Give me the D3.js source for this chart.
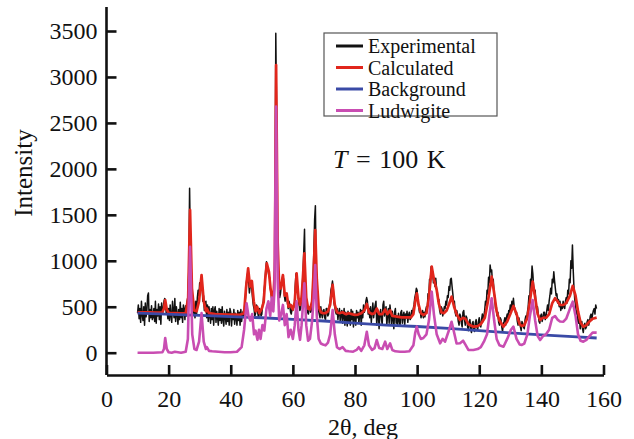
<!DOCTYPE html>
<html>
<head>
<meta charset="utf-8">
<script src="https://cdn.jsdelivr.net/npm/d3@7"></script>
<style>
  body { margin: 0; background: #fff; }
  svg text { font-family: "Liberation Serif", "Times New Roman", serif; fill: #111; }
</style>
</head>
<body>
<svg id="chart" width="634" height="439"></svg>
<script>
// ---- data ----
let xTicks = [0, 20, 40, 60, 80, 100, 120, 140, 160];
let yTicks = [0, 500, 1000, 1500, 2000, 2500, 3000, 3500];

let legendNames = ["Experimental", "Calculated", "Background", "Ludwigite"];

// experimental pattern, one value every 0.25 deg starting at 10 deg (one row = 5 deg)
let expStart = 10;
let expStep = 0.25;
let expIntensity = [
  430, 520, 370, 480, 330, 560, 410, 350, 500, 300, 540, 390, 460, 620, 650, 340, 470, 380, 510, 360,
  390, 480, 340, 560, 320, 470, 400, 530, 360, 500, 310, 540, 420, 470, 560, 590, 540, 420, 480, 370,
  480, 350, 520, 400, 330, 560, 450, 380, 590, 340, 500, 420, 310, 470, 360, 550, 380, 480, 330, 520,
  480, 360, 510, 400, 560, 620, 900, 1789, 1200, 650, 480, 420, 560, 440, 380, 560, 420, 600, 680, 620,
  760, 700, 820, 780, 560, 620, 460, 540, 560, 380, 520, 340, 500, 400, 320, 480, 360, 500, 300, 460,
  500, 330, 450, 380, 300, 480, 350, 470, 320, 500, 360, 290, 450, 390, 310, 470, 340, 440, 300, 480,
  440, 290, 420, 360, 470, 310, 430, 380, 300, 460, 350, 440, 300, 470, 340, 420, 450, 380, 520, 600,
  760, 820, 880, 780, 650, 720, 760, 700, 600, 520, 480, 400, 430, 520, 500, 420, 380, 480, 460, 400,
  420, 520, 560, 680, 760, 900, 990, 920, 900, 840, 820, 700, 640, 560, 580, 660, 700, 1200, 3475, 2600,
  1200, 800, 680, 600, 640, 720, 780, 840, 800, 620, 560, 620, 640, 540, 480, 560, 520, 440, 420, 500,
  460, 520, 500, 720, 860, 800, 700, 580, 520, 460, 480, 580, 700, 860, 1100, 1343, 700, 560, 480, 440,
  420, 480, 500, 440, 460, 580, 800, 1100, 1450, 1600, 900, 700, 520, 460, 420, 380, 500, 420, 380, 460,
  470, 380, 360, 480, 480, 400, 420, 520, 560, 680, 720, 780, 700, 540, 500, 440, 420, 480, 360, 440,
  480, 340, 420, 460, 320, 400, 480, 300, 440, 380, 290, 450, 340, 420, 300, 470, 360, 450, 280, 400,
  420, 300, 460, 380, 440, 320, 410, 470, 300, 460, 380, 520, 440, 480, 560, 600, 560, 420, 480, 380,
  500, 330, 440, 540, 380, 460, 520, 560, 300, 420, 460, 260, 400, 470, 380, 300, 520, 560, 400, 460,
  500, 300, 420, 480, 320, 520, 440, 300, 450, 380, 260, 440, 480, 320, 400, 300, 430, 360, 290, 440,
  460, 320, 400, 440, 300, 420, 380, 450, 330, 410, 440, 360, 380, 460, 420, 480, 520, 600, 640, 700,
  680, 560, 500, 440, 460, 380, 420, 460, 380, 440, 390, 460, 500, 460, 640, 600, 800, 760, 936, 860,
  880, 760, 800, 720, 810, 700, 660, 560, 580, 460, 420, 500, 480, 400, 440, 500, 480, 560, 520, 620,
  600, 720, 680, 800, 810, 720, 640, 540, 560, 440, 400, 460, 420, 340, 300, 420, 400, 320, 280, 440,
  460, 360, 300, 400, 380, 280, 240, 340, 360, 260, 220, 320, 340, 250, 230, 330, 360, 280, 250, 340,
  380, 300, 280, 360, 420, 340, 400, 460, 560, 520, 680, 640, 820, 760, 954, 880, 900, 760, 800, 660,
  600, 480, 500, 400, 440, 330, 300, 380, 360, 280, 230, 320, 340, 380, 300, 380, 420, 380, 460, 440,
  520, 460, 560, 500, 592, 500, 480, 420, 440, 340, 300, 380, 340, 280, 240, 340, 320, 280, 260, 360,
  400, 360, 440, 500, 620, 580, 800, 760, 943, 860, 720, 640, 680, 520, 460, 500, 420, 340, 320, 400,
  420, 340, 380, 440, 440, 360, 400, 460, 520, 460, 560, 620, 700, 640, 800, 760, 881, 780, 700, 620,
  640, 540, 580, 500, 560, 460, 520, 480, 560, 500, 480, 560, 600, 540, 680, 640, 800, 760, 1000, 920,
  1172, 900, 700, 580, 520, 420, 460, 340, 320, 380, 260, 320, 340, 260, 220, 300, 320, 260, 280, 340,
  360, 300, 340, 400, 420, 360, 420, 460, 480, 420, 519, 480
];

// calculated profile [2theta, intensity]
let calcPoints = [
  [10, 440], [12, 440], [14, 440], [16, 435], [18, 440], [18.5, 480], [18.9, 573], [19.4, 470],
  [20, 432], [22, 430], [24, 428], [25.5, 430], [26.3, 600], [26.9, 1553], [27.5, 700], [28.2, 460],
  [29, 450], [29.8, 560], [30.6, 845], [31.3, 560], [32, 450], [32.3, 480], [33, 430], [35, 420],
  [37, 418], [39, 415], [41, 415], [43, 412], [44.3, 430], [44.9, 700], [45.6, 918], [46.2, 720],
  [46.8, 780], [47.4, 560], [48, 450], [48.5, 500], [49.2, 430], [50, 480], [50.6, 550], [51.1, 800],
  [51.6, 973], [52.3, 880], [52.8, 700], [53.3, 600], [53.8, 650], [54.2, 900], [54.6, 3130], [55.1, 1200],
  [55.6, 700], [56.1, 700], [56.8, 845], [57.4, 620], [58, 646], [58.6, 500], [59.3, 520], [60, 470],
  [60.6, 550], [61.2, 864], [61.8, 600], [62.3, 520], [62.8, 600], [63.2, 800], [63.7, 1081], [64.3, 600],
  [64.9, 480], [65.5, 470], [66.2, 560], [66.7, 900], [67.2, 1335], [67.7, 800], [68.3, 500], [69, 440],
  [69.7, 429], [70.5, 430], [71.3, 450], [72, 520], [72.8, 737], [73.5, 520], [74.2, 440], [75, 430],
  [76, 440], [77, 420], [78, 430], [79, 420], [80, 410], [81, 415], [82, 430], [83, 460],
  [83.8, 530], [84.5, 440], [85.5, 420], [86.3, 430], [87, 480], [87.8, 420], [88.8, 420], [89.7, 470],
  [90.4, 420], [91.3, 460], [92, 400], [93, 395], [94, 390], [95, 385], [96, 385], [98, 385],
  [98.8, 420], [99.4, 560], [99.9, 646], [100.5, 520], [101.2, 430], [102, 410], [103, 430], [103.8, 600],
  [104.7, 936], [105.4, 800], [106.3, 682], [107, 530], [107.8, 440], [108.6, 430], [109.5, 460], [110.3, 530],
  [111.1, 609], [111.9, 500], [112.7, 420], [113.8, 356], [114.8, 380], [115.5, 370], [116.5, 310], [118.1, 283],
  [119.5, 290], [120.5, 310], [121.8, 380], [122.8, 560], [124, 827], [124.8, 650], [125.6, 450], [126.5, 350],
  [127.8, 283], [129, 340], [130, 420], [131, 508], [132, 420], [133, 310], [133.7, 290], [134.5, 300],
  [135.5, 380], [136.3, 560], [137.2, 773], [138, 600], [138.8, 420], [139.6, 356], [140.5, 380], [141.5, 380],
  [142.5, 420], [143.5, 540], [144.4, 592], [145.2, 560], [146, 520], [147.1, 519], [148, 540], [149.2, 620],
  [150.1, 726], [151, 620], [151.8, 450], [152.6, 330], [153.5, 283], [154.5, 300], [155.5, 340], [156.5, 370],
  [157.8, 381]
];

// background, nearly a straight line
let bgPoints = [
  [10, 430], [30, 405], [50, 380], [60, 362], [70, 345], [80, 322], [90, 300],
  [100, 285], [110, 265], [120, 240], [130, 215], [140, 195], [150, 175], [157.8, 160]
];

// ludwigite phase contribution
let ludPoints = [
  [10, 0], [15, 0], [18, 5], [18.5, 40], [18.9, 160], [19.4, 40], [20, 5], [21, 0],
  [22, 10], [23, 5], [24, 0], [25.5, 10], [26.2, 150], [26.9, 1153], [27.6, 200], [28.3, 40],
  [29, 30], [29.8, 120], [30.6, 432], [31.3, 120], [32, 40], [32.3, 60], [33, 20], [34, 15],
  [36, 10], [38, 5], [40, 5], [42, 10], [43.5, 60], [44.3, 250], [45.1, 537], [45.7, 400],
  [46.3, 350], [46.9, 420], [47.5, 200], [48, 240], [48.6, 140], [49.1, 250], [49.6, 150], [50.2, 300],
  [50.8, 240], [51.5, 480], [52.1, 560], [52.7, 400], [53.2, 600], [53.7, 450], [54.1, 700], [54.6, 2677],
  [55.1, 800], [55.6, 350], [56.1, 400], [56.8, 520], [57.4, 300], [58, 420], [58.6, 170], [59.3, 250],
  [60, 150], [60.6, 300], [61.2, 560], [61.8, 250], [62.3, 140], [62.8, 300], [63.2, 500], [63.7, 755],
  [64.3, 300], [64.9, 130], [65.5, 150], [66.2, 350], [66.7, 600], [67.2, 954], [67.7, 400], [68.3, 150],
  [69, 100], [69.7, 90], [70.5, 80], [71.3, 110], [72, 200], [72.8, 465], [73.5, 200], [74.2, 60],
  [75, 40], [76, 60], [77, 20], [78, 15], [79.4, 11], [80.5, 30], [81.2, 60], [82, 20],
  [83, 80], [83.8, 228], [84.5, 80], [85.5, 30], [86.3, 50], [87, 138], [87.8, 50], [88.8, 40],
  [89.7, 120], [90.4, 40], [91.3, 102], [92, 30], [93, 15], [94.5, 11], [96, 10], [97.5, 15],
  [98.8, 80], [99.4, 220], [99.9, 283], [100.5, 200], [101.2, 150], [102, 160], [103, 200], [103.8, 350],
  [104.7, 664], [105.4, 420], [106.3, 200], [107.4, 102], [108.2, 150], [109, 120], [110.3, 250], [111.1, 337],
  [111.9, 220], [112.7, 100], [113.8, 102], [114.8, 130], [115.5, 90], [116.5, 30], [118.1, 29], [119.5, 40],
  [120.5, 60], [121.5, 120], [122.5, 200], [123.3, 420], [124, 592], [124.8, 350], [125.6, 150], [126.5, 80],
  [127.8, 65], [129, 150], [130.2, 250], [131, 283], [132, 150], [133, 90], [133.7, 84], [134.5, 100],
  [135.5, 200], [136.3, 400], [137.2, 573], [138, 350], [138.8, 180], [139.6, 138], [140.5, 180], [141.5, 200],
  [142.5, 250], [143.5, 380], [144.4, 399], [145.2, 360], [146, 340], [147.1, 337], [148, 370], [149.2, 480],
  [150.1, 555], [151, 400], [151.8, 200], [152.6, 130], [153.5, 120], [154.5, 140], [155.5, 180], [156.5, 220],
  [157.8, 218]
];

// ---- drawing ----
let colors = {
  exp: "#111111",
  calc: "#e1261c",
  bg: "#3a4aa6",
  lud: "#c94db2"
};
let legendColors = [colors.exp, colors.calc, colors.bg, colors.lud];
let serif = '"Liberation Serif", "Times New Roman", serif';

let svg = d3.select("#chart");

let x = d3.scaleLinear().domain([0, 160]).range([106.5, 603.5]);
let y = d3.scaleLinear().domain([0, 3500]).range([352.7, 31]);
let yBottom = 375;
let yTop = 7;

let line = d3.line()
  .x(d => x(d[0]))
  .y(d => y(d[1]));

let expPoints = expIntensity.map((v, i) => [expStart + i * expStep, v]);

// series, back to front
svg.append("path")
  .attr("d", line(expPoints))
  .attr("fill", "none")
  .attr("stroke", colors.exp)
  .attr("stroke-width", 1.5)
  .attr("stroke-linejoin", "round");

svg.append("path")
  .attr("d", line(calcPoints))
  .attr("fill", "none")
  .attr("stroke", colors.calc)
  .attr("stroke-width", 2.7)
  .attr("stroke-linejoin", "round");

svg.append("path")
  .attr("d", line(bgPoints))
  .attr("fill", "none")
  .attr("stroke", colors.bg)
  .attr("stroke-width", 2.8);

svg.append("path")
  .attr("d", line(ludPoints))
  .attr("fill", "none")
  .attr("stroke", colors.lud)
  .attr("stroke-width", 2.6)
  .attr("stroke-linejoin", "round");

// axes, ticks pointing inwards
let xAxis = d3.axisBottom(x)
  .tickValues(xTicks)
  .tickFormat(d3.format("d"))
  .tickSize(-10)
  .tickSizeOuter(0)
  .tickPadding(15);
let gx = svg.append("g").attr("transform", "translate(0," + yBottom + ")").call(xAxis);

let yAxis = d3.axisLeft(y)
  .tickValues(yTicks)
  .tickFormat(d3.format("d"))
  .tickSize(-10)
  .tickSizeOuter(0)
  .tickPadding(9);
let gy = svg.append("g").attr("transform", "translate(" + x(0) + ",0)").call(yAxis);
gy.select(".domain").attr("d", "M0," + yBottom + "V" + yTop);

gx.attr("font-family", serif).attr("font-size", 24);
gy.attr("font-family", serif).attr("font-size", 24);

svg.selectAll(".domain, .tick line")
  .attr("stroke", "#111")
  .attr("stroke-width", 2.6);
svg.selectAll(".tick text")
  .attr("fill", "#111");

// axis titles
svg.append("text")
  .attr("x", 363)
  .attr("y", 435)
  .attr("text-anchor", "middle")
  .attr("font-size", 24)
  .text("2θ, deg");

svg.append("text")
  .attr("transform", "translate(32,173) rotate(-90)")
  .attr("text-anchor", "middle")
  .attr("font-size", 25)
  .text("Intensity");

// temperature label
let tLabel = svg.append("text")
  .attr("x", 333)
  .attr("y", 168)
  .attr("font-size", 26)
  .attr("word-spacing", 2);
tLabel.append("tspan").attr("font-style", "italic").text("T");
tLabel.append("tspan").text(" = 100 K");

// legend
let legend = svg.append("g");
legend.append("rect")
  .attr("x", 324)
  .attr("y", 33)
  .attr("width", 173)
  .attr("height", 83)
  .attr("fill", "#fff")
  .attr("stroke", "#555")
  .attr("stroke-width", 1.2);

let rows = legend.selectAll("g.row")
  .data(legendNames)
  .enter()
  .append("g")
  .attr("class", "row")
  .attr("transform", (d, i) => "translate(0," + (46 + i * 21.5) + ")");

rows.append("line")
  .attr("x1", 336)
  .attr("x2", 363)
  .attr("y1", 0)
  .attr("y2", 0)
  .attr("stroke", (d, i) => legendColors[i])
  .attr("stroke-width", 3);

rows.append("text")
  .attr("x", 368)
  .attr("y", 7)
  .attr("font-size", 20)
  .text(d => d);
</script>
</body>
</html>
